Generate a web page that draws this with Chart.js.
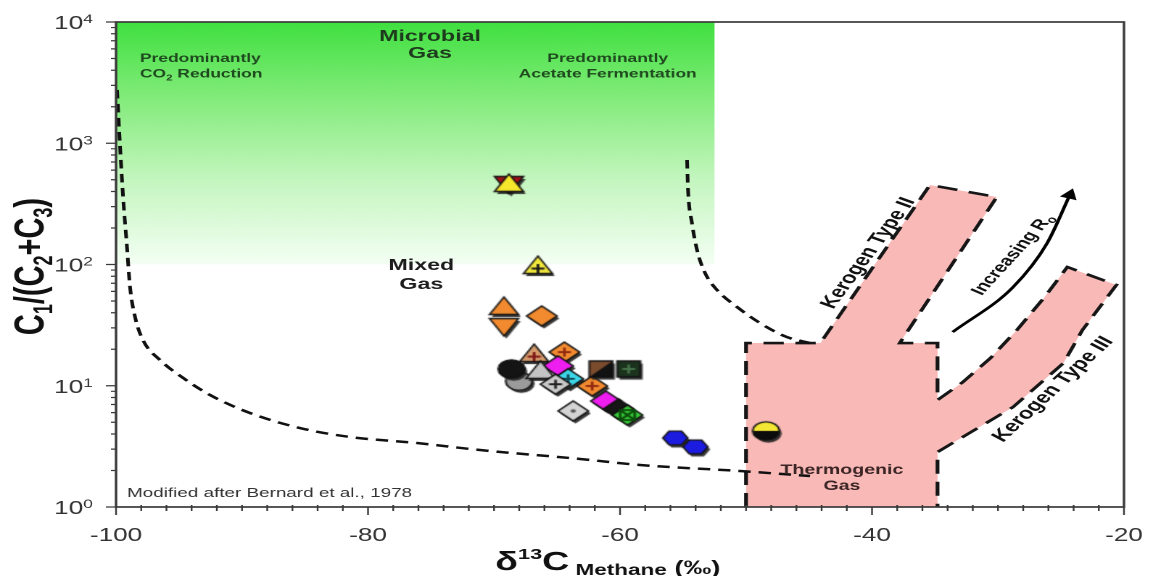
<!DOCTYPE html>
<html lang="en">
<head>
<meta charset="utf-8">
<title>Methane genetic classification (Bernard diagram)</title>
<script src="https://cdn.jsdelivr.net/npm/chart.js@4.4.1/dist/chart.umd.min.js"></script>
<style>
  html, body { margin: 0; padding: 0; background: #ffffff; overflow: hidden; }
  #plot { display: block; transform-origin: 0 0; }
</style>
</head>
<body>
<canvas id="plot" width="795" height="576"></canvas>
<script>
// ---- Gas samples: δ13C of methane (‰) against C1/(C2+C3) ----
const sampleD13C  = [-68.7, -66.4, -69.1, -69.1, -66.1, -66.7, -64.3, -64.8, -67.9, -68.5, -66.2, -64.0, -65.0, -62.1, -61.4, -59.2, -61.0, -60.0, -59.3, -63.6, -55.5, -53.9, -48.3];
const sampleRatio = [453, 95.3, 43.8, 30.5, 36.9, 17.9, 18.6, 14.3, 10.7, 13.5, 13.0, 11.2, 10.1, 9.77, 13.5, 13.5, 7.34, 6.31, 5.63, 6.08, 3.64, 3.07, 4.16];
const sampleSet   = ['S1', 'S2', 'S3', 'S4', 'S5', 'S6', 'S7', 'S8', 'S9', 'S10', 'S11', 'S12', 'S13', 'S7', 'S14', 'S15', 'S8', 'S16', 'S17', 'S18', 'S19', 'S19', 'S20'];

// ---- Field boundaries (Bernard et al., 1978) ----
const microbialZoneX = [-100, -100, -52.5, -52.5];
const microbialZoneY = [100, 10000, 10000, 100];

const co2BoundaryX = [-99.92, -99.68, -99.44, -99.13, -98.89, -98.49, -97.86, -96.51, -94.68, -92.54, -89.37, -85.40, -81.43, -76.11, -71.11, -63.17, -58.41, -50.48, -44.92];
const co2BoundaryY = [2750, 931, 360, 139, 65.2, 36.9, 23.8, 16.3, 11.6, 8.39, 5.96, 4.48, 3.78, 3.37, 2.95, 2.49, 2.22, 1.98, 1.80];

const acetateBoundaryX = [-54.68, -54.60, -54.29, -53.89, -53.25, -52.30, -50.71, -48.89, -46.75, -44.92];
const acetateBoundaryY = [728, 411, 220, 132, 85.1, 61.6, 44.6, 32.9, 25.2, 22.5];

// thermogenic box with the kerogen type II and type III maturity bands
const thermogenicX = [-50, -50, -44.1, -35.4, -30.1, -37.8, -34.8, -34.8, -32.8, -30.6, -28.5, -26.3, -24.5, -20.6, -23.3, -24.8, -28.8, -32.8, -34.8, -34.8];
const thermogenicY = [1, 22.5, 22.5, 453, 360, 22.5, 22.5, 7.63, 10.7, 16.9, 28.8, 53.9, 95.3, 67.8, 28.8, 15.4, 6.68, 3.78, 2.84, 1];

const maturityArrowX = [-33.6, -28.8, -26.1, -24.3];
const maturityArrowY = [27.7, 65.2, 150, 374];

// ---- Axis ticks ----
const xTickValues = [-100, -80, -60, -40, -20];
const xTickLabels = ['-100', '-80', '-60', '-40', '-20'];
const yTickValues = [1, 10, 100, 1000, 10000];
const yTickExponents = ['0', '1', '2', '3', '4'];

// ---- Symbol for every sample set ----
const markerStyle = {
  S1:  { shape: 'hexagram', fill: '#f6e62c', fill2: '#a3121b' },
  S2:  { shape: 'triUp',   fill: '#f2e83c', mark: 'plus', markColor: '#151515' },
  S3:  { shape: 'triUp',   fill: '#f28b30' },
  S4:  { shape: 'triDown', fill: '#f28b30' },
  S5:  { shape: 'diamond', fill: '#f28b30' },
  S6:  { shape: 'triUp',   fill: '#d49a6c', mark: 'plus', markColor: '#7d1515' },
  S7:  { shape: 'diamond', fill: '#f28b30', mark: 'plus', markColor: '#8f2a10' },
  S8:  { shape: 'diamond', fill: '#ee1ef0' },
  S9:  { shape: 'circle',  fill: '#9b9b9b' },
  S10: { shape: 'circle',  fill: '#141414' },
  S11: { shape: 'triUp',   fill: '#c4c4c4' },
  S12: { shape: 'diamond', fill: '#3cd6e8', mark: 'plus', markColor: '#0f4c58' },
  S13: { shape: 'diamond', fill: '#c9c9c9', mark: 'plus', markColor: '#222222' },
  S14: { shape: 'square',  fill: '#7b4b2e', fill2: '#121212', split: 'diagonal' },
  S15: { shape: 'square',  fill: '#1b321d', mark: 'plus', markColor: '#46744a' },
  S16: { shape: 'diamond', fill: '#161616' },
  S17: { shape: 'diamond', fill: '#38c838', mark: 'x', markColor: '#0b4d0b' },
  S18: { shape: 'diamond', fill: '#d4d4d4', mark: 'dot', markColor: '#555555' },
  S19: { shape: 'hexagon', fill: '#1c1ce0' },
  S20: { shape: 'circle',  fill: '#f3e634', fill2: '#0c0c0c', split: 'half' }
};

function shapePath(g, shape, cx, cy) {
  g.beginPath();
  if (shape === 'diamond') {
    g.moveTo(cx, cy - 10); g.lineTo(cx + 10.5, cy); g.lineTo(cx, cy + 10); g.lineTo(cx - 10.5, cy);
  } else if (shape === 'triUp') {
    g.moveTo(cx, cy - 10); g.lineTo(cx + 10, cy + 7.5); g.lineTo(cx - 10, cy + 7.5);
  } else if (shape === 'triDown') {
    g.moveTo(cx, cy + 10); g.lineTo(cx + 10, cy - 7.5); g.lineTo(cx - 10, cy - 7.5);
  } else if (shape === 'square') {
    g.rect(cx - 8, cy - 8, 16, 16);
  } else if (shape === 'circle') {
    g.arc(cx, cy, 9.2, 0, 2 * Math.PI);
  } else if (shape === 'hexagon') {
    for (let k = 0; k < 6; k++) {
      const t = k * Math.PI / 3;
      const px = cx + 8.6 * Math.cos(t), py = cy + 8 * Math.sin(t);
      if (k) g.lineTo(px, py); else g.moveTo(px, py);
    }
  }
  g.closePath();
}

function buildMarker(st) {
  const c = document.createElement('canvas');
  c.width = 36; c.height = 36;
  const g = c.getContext('2d');
  const cx = 17, cy = 17;
  const layers = st.shape === 'hexagram' ? ['triDown', 'triUp'] : [st.shape];
  const outline = () => { g.strokeStyle = '#111111'; g.lineWidth = 1.3; g.stroke(); };

  // drop shadow
  g.fillStyle = 'rgba(35,35,35,0.9)';
  layers.forEach(s => { shapePath(g, s, cx + 1.6, cy + 2.6); g.fill(); });

  if (st.shape === 'hexagram') {
    shapePath(g, 'triDown', cx, cy); g.fillStyle = st.fill2; g.fill(); outline();
    shapePath(g, 'triUp', cx, cy); g.fillStyle = st.fill; g.fill(); outline();
  } else {
    shapePath(g, st.shape, cx, cy); g.fillStyle = st.fill; g.fill();
    if (st.fill2) {
      g.save();
      shapePath(g, st.shape, cx, cy); g.clip();
      g.beginPath();
      if (st.split === 'diagonal') { g.moveTo(cx + 9, cy - 9); g.lineTo(cx + 9, cy + 9); g.lineTo(cx - 9, cy + 9); }
      else { g.rect(cx - 12, cy, 24, 12); }
      g.closePath(); g.fillStyle = st.fill2; g.fill();
      g.restore();
    }
    shapePath(g, st.shape, cx, cy); outline();
  }

  const my = st.shape === 'triUp' ? cy + 2.5 : cy;
  g.strokeStyle = st.markColor; g.fillStyle = st.markColor; g.lineWidth = 1.8;
  if (st.mark === 'plus') {
    g.beginPath(); g.moveTo(cx - 4.5, my); g.lineTo(cx + 4.5, my); g.moveTo(cx, my - 4.5); g.lineTo(cx, my + 4.5); g.stroke();
  } else if (st.mark === 'x') {
    g.beginPath(); g.moveTo(cx - 5, my - 5); g.lineTo(cx + 5, my + 5); g.moveTo(cx + 5, my - 5); g.lineTo(cx - 5, my + 5); g.stroke();
    g.strokeRect(cx - 5, my - 5, 10, 10);
  } else if (st.mark === 'dot') {
    g.beginPath(); g.arc(cx, my, 1.8, 0, 2 * Math.PI); g.fill();
  }
  return c;
}

const markerImages = {};
Object.keys(markerStyle).forEach(k => { markerImages[k] = buildMarker(markerStyle[k]); });

const pts = (xs, ys) => xs.map((x, i) => ({ x, y: ys[i] }));

function microbialFill(context) {
  const chart = context.chart;
  if (!chart.chartArea) return 'rgba(0,0,0,0)';
  const y = chart.scales.y;
  const top = y.getPixelForValue(Math.max(...microbialZoneY));
  const bottom = y.getPixelForValue(Math.min(...microbialZoneY));
  const grad = chart.ctx.createLinearGradient(0, top, 0, bottom);
  grad.addColorStop(0, '#40e040');
  grad.addColorStop(0.3, '#80eb78');
  grad.addColorStop(0.65, '#c4f6bf');
  grad.addColorStop(1, '#f4fff4');
  return grad;
}

// ---- Text helpers ----
const FAMILY = '"Liberation Sans", Arial, Helvetica, sans-serif';
const font = (size, weight) => `${weight || 'normal'} ${size}px ${FAMILY}`;

function drawRuns(ctx, runs, x, y, align) {
  let total = 0;
  const sized = runs.map(([t, f, dy]) => {
    ctx.font = f;
    const w = ctx.measureText(t).width;
    total += w;
    return { t, f, dy: dy || 0, w };
  });
  let cx = align === 'center' ? x - total / 2 : align === 'right' ? x - total : x;
  ctx.textAlign = 'left';
  ctx.textBaseline = 'alphabetic';
  for (const r of sized) { ctx.font = r.f; ctx.fillText(r.t, cx, y + r.dy); cx += r.w; }
}

function rotatedRuns(ctx, runs, cx, cy, deg, size) {
  ctx.save();
  ctx.translate(cx, cy);
  ctx.rotate(deg * Math.PI / 180);
  drawRuns(ctx, runs, 0, size * 0.36, 'center');
  ctx.restore();
}

const decorations = {
  id: 'decorations',
  afterDatasetsDraw(chart) {
    const { ctx } = chart;
    ctx.save();

    // microbial field captions
    ctx.fillStyle = '#1d3a1d';
    drawRuns(ctx, [['Microbial', font(16, 'bold')]], 296.5, 41, 'center');
    drawRuns(ctx, [['Gas', font(16, 'bold')]], 296.5, 58, 'center');
    ctx.fillStyle = '#1f4a1f';
    drawRuns(ctx, [['Predominantly', font(12, 'bold')]], 96.5, 62, 'left');
    drawRuns(ctx, [['CO', font(12, 'bold')], ['2', font(8, 'bold'), 3], [' Reduction', font(12, 'bold')]], 96.5, 77.5, 'left');
    drawRuns(ctx, [['Predominantly', font(12, 'bold')]], 419, 62, 'center');
    drawRuns(ctx, [['Acetate Fermentation', font(12, 'bold')]], 419, 77.5, 'center');

    // mixed and thermogenic captions
    ctx.fillStyle = '#1c1c1c';
    drawRuns(ctx, [['Mixed', font(16, 'bold')]], 290.5, 270, 'center');
    drawRuns(ctx, [['Gas', font(16, 'bold')]], 290.5, 289, 'center');
    ctx.fillStyle = '#3a2424';
    drawRuns(ctx, [['Thermogenic', font(13.5, 'bold')]], 580.5, 474, 'center');
    drawRuns(ctx, [['Gas', font(13.5, 'bold')]], 580.5, 490, 'center');

    // kerogen bands
    ctx.fillStyle = '#111111';
    rotatedRuns(ctx, [['Kerogen Type II', font(16.5, 'bold')]], 597.5, 252.5, -62.5, 16.5);
    rotatedRuns(ctx, [['Increasing R', font(14.5, 'bold')], ['o', font(10, 'bold'), 3]], 697.5, 254, -57.5, 14.5);
    rotatedRuns(ctx, [['Kerogen Type III', font(16.5, 'bold')]], 725, 388.5, -53, 16.5);

    // source note
    ctx.fillStyle = '#333333';
    drawRuns(ctx, [['Modified after Bernard et al., 1978', font(13)]], 87.6, 497, 'left');
    ctx.restore();
  },
  afterDraw(chart) {
    const { ctx, chartArea: a, scales: { x, y } } = chart;
    ctx.save();
    ctx.strokeStyle = '#3a3a3a';
    ctx.lineWidth = 1.7;
    ctx.strokeRect(a.left, a.top, a.right - a.left, a.bottom - a.top);

    // x ticks: majors labelled, minors every 2 ‰
    ctx.lineWidth = 1.2;
    ctx.beginPath();
    for (let v = x.min; v <= x.max + 1e-9; v += 2) {
      const px = x.getPixelForValue(v);
      const major = xTickValues.includes(Math.round(v));
      ctx.moveTo(px, a.bottom - (major ? 0 : 2));
      ctx.lineTo(px, a.bottom + (major ? 8 : 4));
    }
    // y ticks: decades plus log minors
    for (let d = 0; d < yTickValues.length; d++) {
      const py = y.getPixelForValue(yTickValues[d]);
      ctx.moveTo(a.left - 7, py); ctx.lineTo(a.left, py);
      if (d < yTickValues.length - 1) {
        for (let m = 2; m <= 9; m++) {
          const pm = y.getPixelForValue(yTickValues[d] * m);
          ctx.moveTo(a.left - 3.5, pm); ctx.lineTo(a.left, pm);
        }
      }
    }
    ctx.stroke();

    ctx.fillStyle = '#333333';
    xTickValues.forEach((v, i) => {
      drawRuns(ctx, [[xTickLabels[i], font(18)]], x.getPixelForValue(v), 541, 'center');
    });
    yTickValues.forEach((v, i) => {
      const py = y.getPixelForValue(v);
      drawRuns(ctx, [['10', font(18)], [yTickExponents[i], font(12), -6]], a.left - 16, py + 7, 'right');
    });

    // axis titles
    ctx.fillStyle = '#111111';
    drawRuns(ctx, [
      ['δ', font(26, 'bold')], ['13', font(15, 'bold'), -11], ['C', font(26, 'bold')],
      [' Methane', font(15.5, 'bold'), 5], [' (‰)', font(19, 'bold'), 4]
    ], 419, 570, 'center');

    ctx.save();
    ctx.translate(30, (a.top + a.bottom) / 2 + 2);
    ctx.rotate(-Math.PI / 2);
    drawRuns(ctx, [
      ['C', font(29, 'bold')], ['1', font(18, 'bold'), 6], ['/(C', font(29, 'bold')], ['2', font(18, 'bold'), 6],
      ['+C', font(29, 'bold')], ['3', font(18, 'bold'), 6], [')', font(29, 'bold')]
    ], 0, 0, 'center');
    ctx.restore();
    ctx.restore();
  }
};

const canvas = document.getElementById('plot');
canvas.style.transform = 'scaleX(' + (1153 / 795) + ')';

new Chart(canvas, {
  type: 'scatter',
  data: {
    datasets: [
      {
        label: 'Microbial gas',
        data: pts(microbialZoneX, microbialZoneY),
        showLine: true, fill: 'shape', tension: 0,
        backgroundColor: microbialFill, borderColor: 'rgba(0,0,0,0)', borderWidth: 0,
        pointRadius: 0, order: 10
      },
      {
        label: 'Thermogenic gas',
        data: pts(thermogenicX, thermogenicY),
        showLine: true, fill: 'shape', tension: 0,
        backgroundColor: '#f8b9b7', borderColor: '#161616', borderWidth: 2.6, borderDash: [14, 8],
        pointRadius: 0, order: 9
      },
      {
        label: 'CO2 reduction limit',
        data: pts(co2BoundaryX, co2BoundaryY),
        showLine: true, fill: false, cubicInterpolationMode: 'monotone',
        borderColor: '#111111', borderWidth: 2.5, borderDash: [8.5, 5.5],
        pointRadius: 0, order: 5
      },
      {
        label: 'Acetate fermentation limit',
        data: pts(acetateBoundaryX, acetateBoundaryY),
        showLine: true, fill: false, cubicInterpolationMode: 'monotone',
        borderColor: '#111111', borderWidth: 2.5, borderDash: [8.5, 5.5],
        pointRadius: 0, order: 5
      },
      {
        label: 'Increasing maturity',
        data: pts(maturityArrowX, maturityArrowY),
        showLine: true, fill: false, cubicInterpolationMode: 'monotone',
        borderColor: '#000000', borderWidth: 2.4,
        pointStyle: 'triangle',
        pointRadius: ctx => (ctx.dataIndex === maturityArrowX.length - 1 ? 6 : 0),
        pointRotation: ctx => {
          const n = maturityArrowX.length;
          if (ctx.dataIndex !== n - 1) return 0;
          const { x, y } = ctx.chart.scales;
          const dx = x.getPixelForValue(maturityArrowX[n - 1]) - x.getPixelForValue(maturityArrowX[n - 2]);
          const dy = y.getPixelForValue(maturityArrowY[n - 1]) - y.getPixelForValue(maturityArrowY[n - 2]);
          return Math.atan2(dx, -dy) * 180 / Math.PI;
        },
        pointBackgroundColor: '#000000', pointBorderColor: '#000000', pointBorderWidth: 1,
        order: 4
      },
      {
        label: 'Samples',
        data: pts(sampleD13C, sampleRatio),
        pointStyle: ctx => markerImages[sampleSet[ctx.dataIndex]],
        pointRadius: 10,
        order: 1
      }
    ]
  },
  options: {
    responsive: false,
    animation: false,
    devicePixelRatio: 2,
    events: [],
    layout: { padding: { left: 80, right: 20, top: 22, bottom: 69 } },
    plugins: { legend: { display: false }, tooltip: { enabled: false } },
    scales: {
      x: { type: 'linear', min: -100, max: -20, display: false },
      y: { type: 'logarithmic', min: 1, max: 10000, display: false }
    }
  },
  plugins: [decorations]
});
</script>
</body>
</html>
